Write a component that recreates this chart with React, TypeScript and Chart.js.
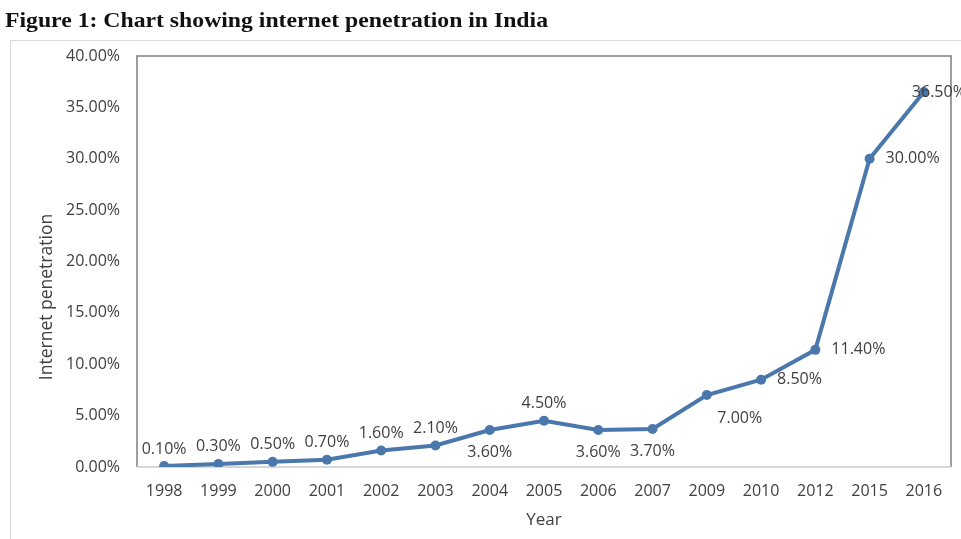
import React, { useEffect, useRef } from "react";
import { Chart, registerables } from "chart.js";

Chart.register(...registerables);

const years = ["1998", "1999", "2000", "2001", "2002", "2003", "2004", "2005", "2006", "2007", "2009", "2010", "2012", "2015", "2016"];
const penetration = [0.1, 0.3, 0.5, 0.7, 1.6, 2.1, 3.6, 4.5, 3.6, 3.7, 7.0, 8.5, 11.4, 30.0, 36.5];
const yTicksMin = 0;
const yTicksMax = 40;
const yTickStep = 5;

const titleText = "Figure 1: Chart showing internet penetration in India";
const xTitle = "Year";
const yTitle = "Internet penetration";

const labelPlacement = ["above", "above", "above", "above", "above", "above", "below", "above", "below", "below", "belowRight", "right", "right", "right", "centerRight"];

const FONT = "'Open Sans', 'Noto Sans', sans-serif";

const decorPlugin = {
  id: "decor",
  beforeDraw(chart: any) {
    const ctx = chart.ctx;
    const a = chart.chartArea;
    ctx.save();
    ctx.fillStyle = "#ffffff";
    ctx.fillRect(0, 0, chart.width, chart.height);
    // outer frame
    ctx.strokeStyle = "#d9d9d9";
    ctx.lineWidth = 1;
    ctx.beginPath();
    ctx.moveTo(10.5, chart.height);
    ctx.lineTo(10.5, 40.5);
    ctx.lineTo(chart.width, 40.5);
    ctx.stroke();
    // title
    ctx.save();
    ctx.fillStyle = "#111111";
    ctx.font = "bold 22px 'Liberation Serif', 'DejaVu Serif', serif";
    ctx.textAlign = "left";
    ctx.textBaseline = "alphabetic";
    const w = ctx.measureText(titleText).width;
    const target = 543;
    ctx.translate(5, 27);
    ctx.scale(target / w, 1);
    ctx.fillText(titleText, 0, 0);
    ctx.restore();
    // plot border
    ctx.strokeStyle = "#7f7f7f";
    ctx.lineWidth = 1.5;
    ctx.beginPath();
    ctx.moveTo(a.left, a.bottom);
    ctx.lineTo(a.left, a.top);
    ctx.lineTo(a.right, a.top);
    ctx.lineTo(a.right, a.bottom);
    ctx.stroke();
    ctx.strokeStyle = "#c8c8c8";
    ctx.lineWidth = 1.5;
    ctx.beginPath();
    ctx.moveTo(a.left, a.bottom);
    ctx.lineTo(a.right, a.bottom);
    ctx.stroke();
    // axis titles
    ctx.fillStyle = "#404040";
    ctx.font = `17px ${FONT}`;
    ctx.textAlign = "center";
    ctx.textBaseline = "middle";
    ctx.fillText(xTitle, (a.left + a.right) / 2, 520);
    ctx.translate(47, 297);
    ctx.rotate(-Math.PI / 2);
    ctx.font = `17.5px ${FONT}`;
    ctx.fillText(yTitle, 0, 0);
    ctx.restore();
  },
  afterDatasetsDraw(chart: any) {
    const ctx = chart.ctx;
    const meta = chart.getDatasetMeta(0);
    ctx.save();
    ctx.fillStyle = "#404040";
    ctx.font = `16px ${FONT}`;
    ctx.textBaseline = "middle";
    meta.data.forEach((pt: any, i: number) => {
      const txt = penetration[i].toFixed(2) + "%";
      const p = labelPlacement[i];
      let x = pt.x;
      let y = pt.y;
      ctx.textAlign = "center";
      if (p === "above") y -= 17;
      else if (p === "below") y += 22;
      else if (p === "belowRight") { x += 33; y += 23; }
      else if (p === "right") { ctx.textAlign = "left"; x += 16; }
      else if (p === "centerRight") { ctx.textAlign = "left"; x -= 12; }
      ctx.fillText(txt, x, y);
    });
    ctx.restore();
  },
};

export default function App() {
  const ref = useRef<HTMLCanvasElement>(null);
  useEffect(() => {
    if (!ref.current) return;
    const chart = new Chart(ref.current, {
      type: "line",
      data: {
        labels: years,
        datasets: [
          {
            data: penetration,
            borderColor: "#4a77ac",
            backgroundColor: "#4a77ac",
            borderWidth: 4,
            pointRadius: 5,
            pointBackgroundColor: "#4a77ac",
            pointBorderWidth: 0,
            tension: 0,
            fill: false,
          },
        ],
      },
      options: {
        responsive: false,
        animation: false,
        layout: { padding: { left: 0, right: 10, top: 56, bottom: 0 } },
        plugins: { legend: { display: false }, tooltip: { enabled: false }, title: { display: false } },
        scales: {
          x: {
            offset: true,
            grid: { display: false, drawTicks: false },
            border: { display: false },
            ticks: { color: "#404040", font: { family: FONT, size: 16 }, padding: 15, maxRotation: 0, autoSkip: false },
            afterFit: (s: any) => { s.height = 72; },
          },
          y: {
            min: yTicksMin,
            max: yTicksMax,
            grid: { display: false, drawTicks: false },
            border: { display: false },
            ticks: {
              stepSize: yTickStep,
              color: "#404040",
              font: { family: FONT, size: 16 },
              padding: 17,
              callback: (v: any) => Number(v).toFixed(2) + "%",
            },
            afterFit: (s: any) => { s.width = 137; },
          },
        },
      },
      plugins: [decorPlugin],
    });
    return () => chart.destroy();
  }, []);
  return (
    <div style={{ position: "fixed", left: 0, top: 0, width: 961, height: 539, background: "#fff" }}>
      <canvas ref={ref} width={961} height={539} style={{ display: "block" }} />
    </div>
  );
}
